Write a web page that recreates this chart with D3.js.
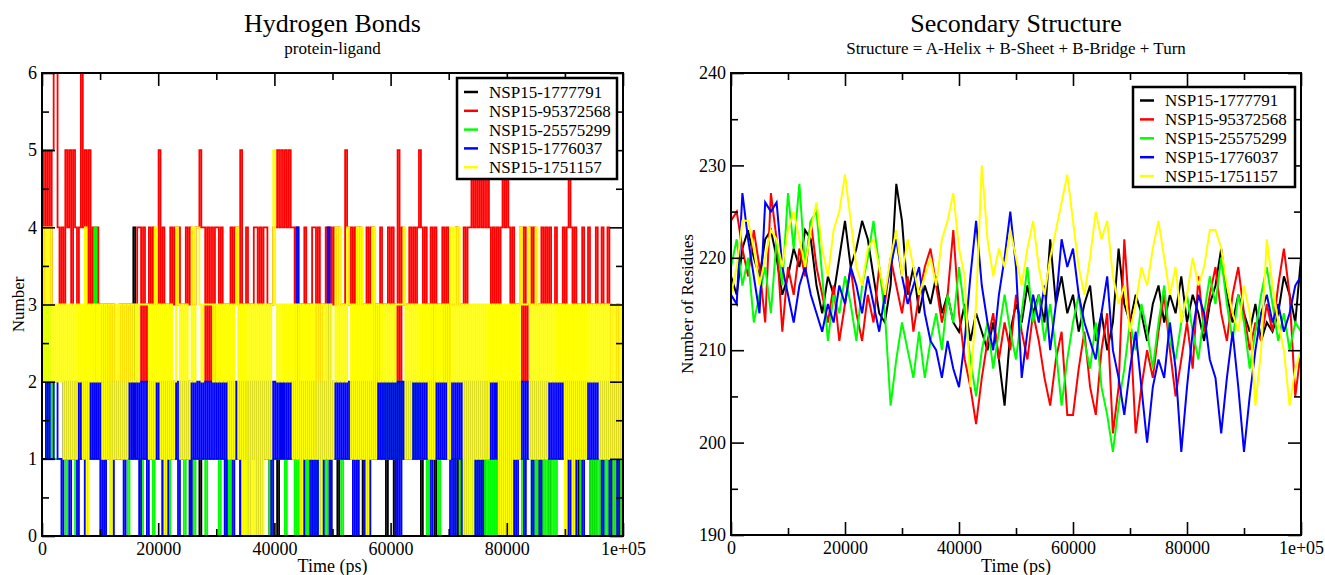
<!DOCTYPE html>
<html>
<head>
<meta charset="utf-8">
<script src="https://cdn.jsdelivr.net/npm/d3@7"></script>
<style>
  body { margin: 0; background: #fff; }
  svg text { font-family: "Liberation Serif", "Times New Roman", serif; fill: #000; }
</style>
</head>
<body>
<svg id="chart" width="1325" height="575"></svg>
<script>
// ---- data ----
var seriesNames = ['NSP15-1777791', 'NSP15-95372568', 'NSP15-25575299', 'NSP15-1776037', 'NSP15-1751157'];
var seriesColors = ['#000000', '#ff0000', '#00ff00', '#0000ff', '#ffff00'];

var timeMax = 100000;
var xTickMajor = [0, 20000, 40000, 60000, 80000, 100000];
var xTickLabels = ['0', '20000', '40000', '60000', '80000', '1e+05'];
var xTickMinor = [10000, 30000, 50000, 70000, 90000];

// hydrogen bonds, one digit per frame (~333 ps)
var hbBlack = '1111111111 1111111111 1111111111 1111111111 1111111411 ' +
  '1111111111 1101111111 1111110111 1011111111 1111101111 ' +
  '1101111111 1111111011 1012111111 1111011111 1111111101 ' +
  '1101111111 1111101111 1111111011 1011211111 1111101111 ' +
  '1101111111 1111010101 1111111011 1112011111 1101111111 ' +
  '1111101011 1011111111 1111110111 1101011111 1111111011';
var hbRed = '3545356643 4354535434 6453534343 3232323222 3232323334 ' +
  '4242343433 5343334343 4333434334 4544242424 4343333434 ' +
  '4353343334 4343443334 4545454544 3433343334 4242334343 ' +
  '4343335434 3434333434 4232433343 4325243334 3434543433 ' +
  '4243334242 3334333434 4545454545 4343434545 4343334242 ' +
  '3434333434 3433433343 4543433343 3433343343 3430203020';
var hbGreen = '2313121111 1101111011 1111111411 1101101111 1111011111 ' +
  '1011111011 1111101111 1110111101 1111011111 1011110111 ' +
  '1111011111 1101111011 1111101111 0101010101 0101010111 ' +
  '1111011111 1101111011 2121212121 2121211212 1212111101 ' +
  '1111011111 1101101011 0101010101 0101010111 1101111011 ' +
  '1101010101 0101011111 1111011011 1101010101 0101010101';
var hbBlue = '2212112211 0212021202 1202121212 0202120212 1202121212 ' +
  '0212021212 1202021212 0212120212 1212121212 1212021202 ' +
  '1202120212 0202121202 1212121212 1412021202 0202021402 ' +
  '1212121212 0202120202 1212121212 1202021212 1212121212 ' +
  '0212121212 0202120202 1202020212 1212120202 0202021202 ' +
  '1202120212 1212121212 0202021202 1212121202 1202120212';
var hbYellow = '4242423232 3131313132 3140323232 3131303131 3131323232 ' +
  '3333313142 3130313124 3131312424 4323333323 2323231313 ' +
  '4130303030 3030313135 3232323231 3130313131 3130313131 ' +
  '2424232431 3141413031 4132323232 3233334131 3232323231 ' +
  '3132323231 4242423030 3031313131 3232303030 3031314333 ' +
  '4131413131 3232323230 3130313131 3232323131 3131313131';
var hbTicks = [0, 1, 2, 3, 4, 5, 6];
var hbMinor = [0.5, 1.5, 2.5, 3.5, 4.5, 5.5];

// secondary structure, one value per 1000 ps
var ssBlack = [218, 216, 221, 223, 220, 218, 222, 223, 220, 216, 218, 221, 219, 223, 222, 217, 214, 218, 216, 220,
  224, 219, 221, 224, 222, 218, 214, 213, 217, 228, 224, 216, 219, 214, 217, 215, 218, 214, 216, 213,
  212, 215, 211, 214, 212, 210, 213, 209, 204, 212, 215, 213, 217, 214, 216, 213, 222, 215, 218, 214,
  216, 212, 215, 217, 211, 214, 210, 213, 221, 215, 213, 216, 214, 211, 215, 217, 213, 216, 214, 218,
  213, 216, 214, 211, 215, 217, 221, 216, 213, 216, 214, 212, 215, 211, 213, 212, 214, 218, 216, 213, 220];
var ssRed = [224, 225, 221, 218, 223, 219, 213, 227, 222, 212, 219, 216, 221, 218, 224, 219, 216, 213, 217, 211,
  215, 219, 214, 211, 216, 213, 219, 215, 220, 217, 214, 218, 212, 216, 219, 221, 217, 213, 216, 223,
  214, 209, 206, 202, 207, 211, 214, 209, 213, 210, 216, 212, 209, 214, 211, 207, 204, 209, 212, 203,
  203, 208, 212, 206, 203, 210, 214, 201, 206, 222, 213, 201, 206, 210, 207, 212, 216, 210, 205, 209,
  213, 208, 218, 212, 216, 219, 214, 211, 216, 219, 214, 210, 213, 211, 215, 212, 217, 221, 216, 205, 210];
var ssGreen = [219, 222, 217, 220, 213, 216, 219, 214, 222, 217, 227, 221, 228, 219, 224, 225, 218, 211, 216, 214,
  218, 215, 211, 217, 220, 224, 219, 214, 204, 209, 213, 210, 207, 212, 207, 211, 214, 210, 216, 213,
  219, 214, 209, 205, 210, 213, 208, 212, 216, 212, 209, 214, 219, 213, 216, 211, 215, 210, 204, 209,
  213, 216, 211, 208, 213, 206, 203, 199, 204, 208, 213, 210, 215, 212, 208, 213, 217, 211, 209, 213,
  216, 212, 209, 214, 218, 215, 220, 215, 211, 216, 213, 208, 212, 216, 219, 215, 211, 214, 210, 213, 212];
var ssBlue = [216, 215, 227, 222, 218, 214, 226, 225, 226, 219, 216, 213, 217, 219, 216, 214, 212, 215, 213, 217,
  215, 219, 217, 214, 218, 215, 212, 216, 219, 222, 218, 215, 217, 219, 214, 211, 210, 207, 211, 208,
  206, 211, 218, 224, 217, 213, 210, 216, 220, 225, 219, 207, 212, 216, 213, 217, 210, 215, 222, 219,
  221, 216, 213, 211, 209, 214, 218, 210, 207, 203, 208, 212, 206, 200, 206, 209, 207, 213, 208, 199,
  206, 212, 216, 214, 209, 207, 201, 207, 212, 206, 199, 205, 210, 214, 216, 213, 215, 212, 214, 217, 218];
var ssYellow = [216, 219, 224, 224, 221, 217, 220, 223, 222, 219, 223, 225, 222, 219, 223, 226, 221, 218, 223, 225,
  229, 224, 219, 217, 221, 222, 219, 216, 220, 223, 218, 222, 219, 216, 218, 220, 217, 222, 224, 227,
  221, 218, 206, 215, 230, 222, 218, 221, 219, 223, 220, 217, 221, 224, 219, 216, 220, 223, 226, 229,
  224, 219, 216, 220, 225, 222, 224, 218, 215, 217, 212, 215, 219, 217, 221, 224, 220, 216, 219, 213,
  216, 220, 217, 219, 223, 223, 221, 217, 214, 212, 217, 214, 204, 210, 222, 217, 213, 210, 204, 208, 210];
var ssTicks = [190, 200, 210, 220, 230, 240];
var ssMinor = [195, 205, 215, 225, 235];

// ---- helpers ----
function parseDigits(s) {
  return s.replace(/\s+/g, '').split('').map(Number);
}

function toSeries(valueLists) {
  return valueLists.map(function (vals, i) {
    var step = timeMax / (vals.length - 1);
    return {
      name: seriesNames[i],
      color: seriesColors[i],
      values: vals.map(function (v, j) { return [j * step, v]; })
    };
  });
}

var svg = d3.select('#chart');

function styleAxis(sel, fontSize) {
  sel.attr('font-family', null).attr('font-size', fontSize);
  sel.select('.domain').remove();
  sel.selectAll('line').attr('stroke', '#000').attr('stroke-width', 1.6);
}

function renderPanel({
  id, box, yDomain, yMajor, yMinor, title, subtitle, subtitleSize,
  yLabel, yLabelX, series, curve, lineWidth, legend
}) {
  var x = d3.scaleLinear().domain([0, timeMax]).range([box.left, box.right]);
  var y = d3.scaleLinear().domain(yDomain).range([box.bottom, box.top]);
  var root = svg.append('g').attr('class', id);

  root.append('clipPath').attr('id', 'clip-' + id)
    .append('rect')
    .attr('x', box.left).attr('y', box.top)
    .attr('width', box.right - box.left).attr('height', box.bottom - box.top);

  var line = d3.line()
    .x(function (d) { return x(d[0]); })
    .y(function (d) { return y(d[1]); })
    .curve(curve);

  root.append('g')
    .attr('clip-path', 'url(#clip-' + id + ')')
    .selectAll('path')
    .data(series)
    .enter()
    .append('path')
    .attr('d', function (s) { return line(s.values); })
    .attr('fill', 'none')
    .attr('stroke', function (s) { return s.color; })
    .attr('stroke-width', lineWidth)
    .attr('stroke-linejoin', 'miter');

  // ticks on all four sides, pointing inwards
  var major = 13, minor = 7;
  root.append('g').attr('transform', 'translate(0,' + box.bottom + ')')
    .call(d3.axisBottom(x).tickValues(xTickMajor)
      .tickFormat(function (d, i) { return xTickLabels[i]; })
      .tickSize(-major).tickSizeOuter(0).tickPadding(6))
    .call(styleAxis, 18);
  root.append('g').attr('transform', 'translate(0,' + box.bottom + ')')
    .call(d3.axisBottom(x).tickValues(xTickMinor).tickFormat('').tickSize(-minor).tickSizeOuter(0))
    .call(styleAxis, 18);
  root.append('g').attr('transform', 'translate(0,' + box.top + ')')
    .call(d3.axisTop(x).tickValues(xTickMajor).tickFormat('').tickSize(-major).tickSizeOuter(0))
    .call(styleAxis, 18);
  root.append('g').attr('transform', 'translate(0,' + box.top + ')')
    .call(d3.axisTop(x).tickValues(xTickMinor).tickFormat('').tickSize(-minor).tickSizeOuter(0))
    .call(styleAxis, 18);
  root.append('g').attr('transform', 'translate(' + box.left + ',0)')
    .call(d3.axisLeft(y).tickValues(yMajor).tickFormat(d3.format('d'))
      .tickSize(-major).tickSizeOuter(0).tickPadding(5))
    .call(styleAxis, 18);
  root.append('g').attr('transform', 'translate(' + box.left + ',0)')
    .call(d3.axisLeft(y).tickValues(yMinor).tickFormat('').tickSize(-minor).tickSizeOuter(0))
    .call(styleAxis, 18);
  root.append('g').attr('transform', 'translate(' + box.right + ',0)')
    .call(d3.axisRight(y).tickValues(yMajor).tickFormat('').tickSize(-major).tickSizeOuter(0))
    .call(styleAxis, 18);
  root.append('g').attr('transform', 'translate(' + box.right + ',0)')
    .call(d3.axisRight(y).tickValues(yMinor).tickFormat('').tickSize(-minor).tickSizeOuter(0))
    .call(styleAxis, 18);

  root.append('rect')
    .attr('x', box.left).attr('y', box.top)
    .attr('width', box.right - box.left).attr('height', box.bottom - box.top)
    .attr('fill', 'none').attr('stroke', '#000').attr('stroke-width', 2);

  var cx = (box.left + box.right) / 2;
  root.append('text').attr('x', cx).attr('y', 32)
    .attr('text-anchor', 'middle').attr('font-size', 26).text(title);
  root.append('text').attr('x', cx).attr('y', 54)
    .attr('text-anchor', 'middle').attr('font-size', subtitleSize).text(subtitle);
  root.append('text').attr('x', cx).attr('y', 572)
    .attr('text-anchor', 'middle').attr('font-size', 18).text('Time (ps)');
  root.append('text')
    .attr('transform', 'translate(' + yLabelX + ',' + ((box.top + box.bottom) / 2) + ') rotate(-90)')
    .attr('text-anchor', 'middle').attr('font-size', 17).text(yLabel);

  // legend
  var lg = root.append('g').attr('transform', 'translate(' + legend.x + ',' + legend.y + ')');
  lg.append('rect')
    .attr('width', legend.w).attr('height', legend.h)
    .attr('fill', '#fff').attr('stroke', '#000').attr('stroke-width', 2.5);
  var rows = lg.selectAll('.row')
    .data(series)
    .enter()
    .append('g')
    .attr('class', 'row')
    .attr('transform', function (s, i) { return 'translate(0,' + (legend.first + i * legend.gap) + ')'; });
  rows.append('line')
    .attr('x1', 7).attr('x2', 21).attr('y1', 0).attr('y2', 0)
    .attr('stroke', function (s) { return s.color; })
    .attr('stroke-width', 2.5);
  rows.append('text')
    .attr('x', 32).attr('dy', '0.35em')
    .attr('font-size', 17)
    .text(function (s) { return s.name; });
}

renderPanel({
  id: 'hbond',
  box: { left: 42, right: 623, top: 73, bottom: 536 },
  yDomain: [0, 6],
  yMajor: hbTicks,
  yMinor: hbMinor,
  title: 'Hydrogen Bonds',
  subtitle: 'protein-ligand',
  subtitleSize: 17,
  yLabel: 'Number',
  yLabelX: 24,
  series: toSeries([hbBlack, hbRed, hbGreen, hbBlue, hbYellow].map(parseDigits)),
  curve: d3.curveStepAfter,
  lineWidth: 1.8,
  legend: { x: 457, y: 78, w: 160, h: 101, first: 14, gap: 18.8 }
});

renderPanel({
  id: 'sstruct',
  box: { left: 731, right: 1301, top: 73, bottom: 535 },
  yDomain: [190, 240],
  yMajor: ssTicks,
  yMinor: ssMinor,
  title: 'Secondary Structure',
  subtitle: 'Structure = A-Helix + B-Sheet + B-Bridge + Turn',
  subtitleSize: 17,
  yLabel: 'Number of Residues',
  yLabelX: 693,
  series: toSeries([ssBlack, ssRed, ssGreen, ssBlue, ssYellow]),
  curve: d3.curveLinear,
  lineWidth: 2,
  legend: { x: 1133, y: 87, w: 162, h: 100, first: 13.5, gap: 18.9 }
});
</script>
</body>
</html>
